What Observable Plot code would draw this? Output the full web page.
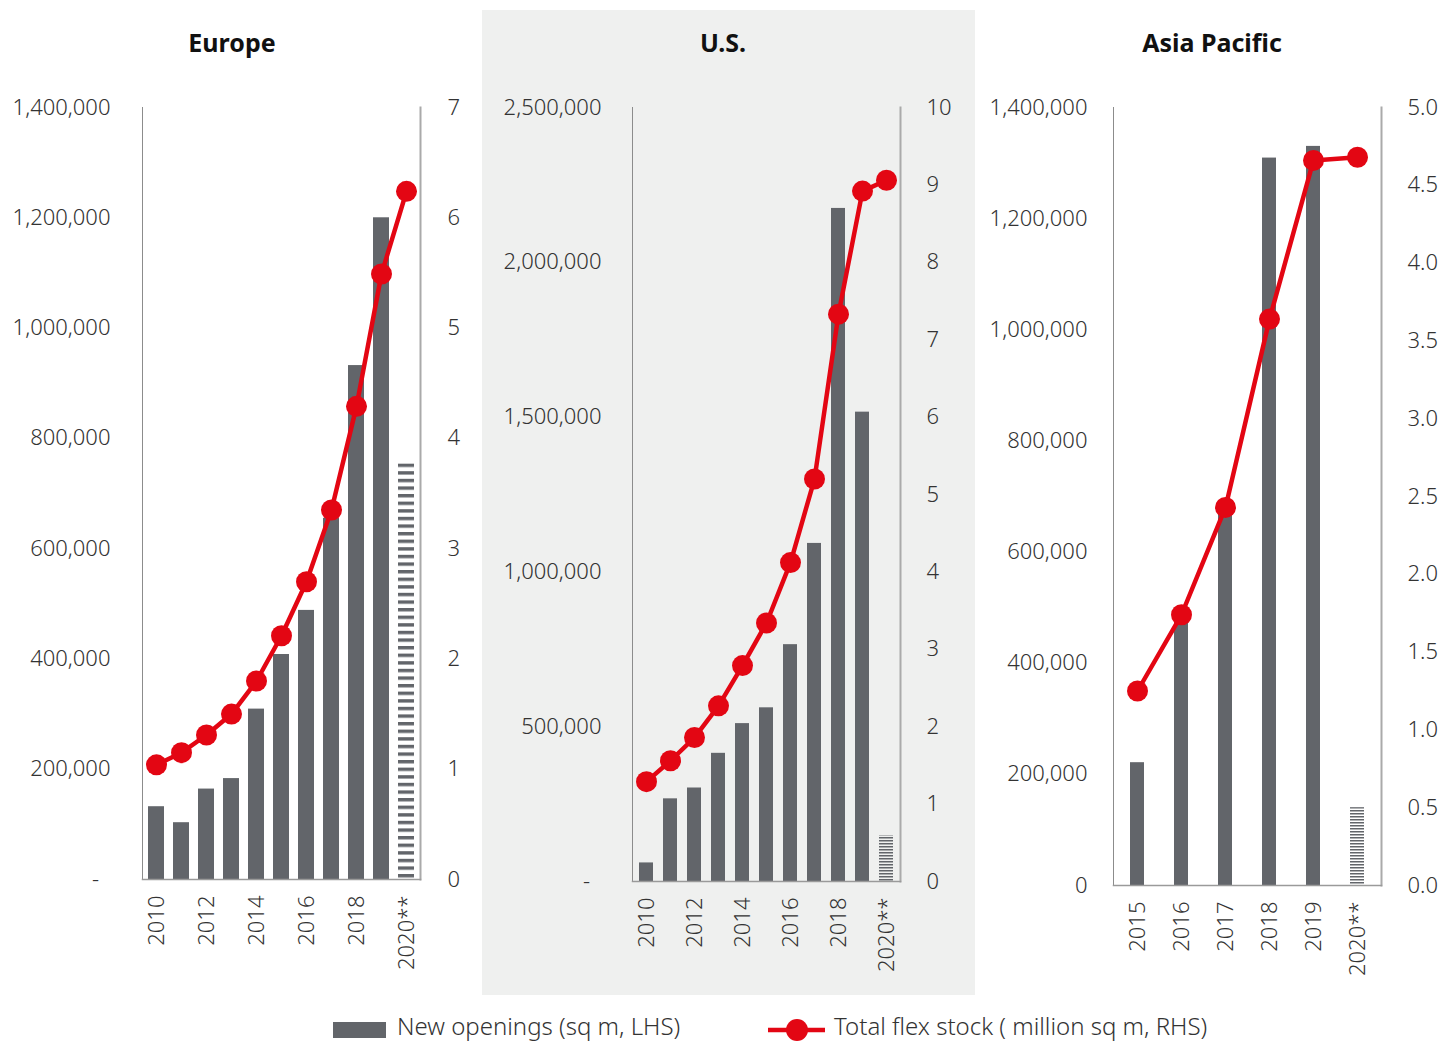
<!DOCTYPE html>
<html>
<head>
<meta charset="utf-8">
<script src="https://cdn.jsdelivr.net/npm/d3@7"></script>
<script src="https://cdn.jsdelivr.net/npm/@observablehq/plot@0.6"></script>
<style>
  body { margin: 0; background: #fff; }
  #root { position: relative; width: 1455px; height: 1043px; overflow: hidden; font-family: "Noto Sans", sans-serif; }
  .bg { position: absolute; left: 482px; top: 10px; width: 493px; height: 985px; background: #eff0ef; }
  .title { position: absolute; top: 30px; font-weight: 700; font-size: 25px; line-height: 25px; color: #111; transform: translateX(-50%); white-space: nowrap; }
  .panel { position: absolute; top: 0; }
  .legend-text { position: absolute; top: 1012px; font-size: 24px; line-height: 28px; color: #333; font-weight: 300; white-space: nowrap; }
</style>
</head>
<body>
<div id="root">
  <div class="bg"></div>
</div>
<script>
// ---------- data ----------
const forecastLabel = "2020**";
const panelTitles = ["Europe", "U.S.", "Asia Pacific"];
const legendLabels = ["New openings (sq m, LHS)", "Total flex stock ( million sq m, RHS)"];

const euYears = ["2010","2011","2012","2013","2014","2015","2016","2017","2018","2019","2020**"];
const euOpenings = [132000,103000,164000,183000,309000,408000,488000,655000,932000,1200000,754000];
const euStock = [1.04,1.15,1.31,1.50,1.80,2.21,2.70,3.35,4.29,5.49,6.24];
const euLeftTicks = [0,200000,400000,600000,800000,1000000,1200000,1400000];
const euRightTicks = [0,1,2,3,4,5,6,7];

const usYears = ["2010","2011","2012","2013","2014","2015","2016","2017","2018","2019","2020**"];
const usOpenings = [60000,267000,302000,414000,510000,561000,765000,1092000,2174000,1516000,148000];
const usStock = [1.29,1.56,1.86,2.27,2.79,3.34,4.12,5.20,7.33,8.92,9.06];
const usLeftTicks = [0,500000,1000000,1500000,2000000,2500000];
const usRightTicks = [0,1,2,3,4,5,6,7,8,9,10];

const apYears = ["2015","2016","2017","2018","2019","2020**"];
const apOpenings = [221000,480000,670000,1309000,1330000,140000];
const apStock = [1.25,1.74,2.43,3.64,4.66,4.68];
const apLeftTicks = [0,200000,400000,600000,800000,1000000,1200000,1400000];
const apRightTicks = [0,0.5,1,1.5,2,2.5,3,3.5,4,4.5,5];

const evenYearTicks = ["2010","2012","2014","2016","2018","2020**"];

// ---------- styling ----------
const barColor = "#62656a";
const red = "#e30613";
const textColor = "#333";
const comma = d3.format(",");

function makePanel(cfg) {
  const factor = cfg.yMax / cfg.rMax;
  const rows = cfg.years.map((y, i) => ({ year: y, open: cfg.openings[i], stock: cfg.stock[i], fc: y === forecastLabel }));
  const actual = rows.filter(d => !d.fc);
  const fc = rows.filter(d => d.fc);
  const svg = Plot.plot({
    width: cfg.width, height: 1000,
    marginLeft: cfg.ml, marginRight: cfg.mr, marginTop: 107, marginBottom: cfg.mb,
    style: { background: "transparent", fontFamily: "Noto Sans, sans-serif", fontSize: "22px", color: textColor, fontWeight: 300, overflow: "visible" },
    x: { type: "band", domain: cfg.years, paddingInner: cfg.pi, paddingOuter: cfg.po, align: 0.5 },
    y: { domain: [0, cfg.yMax] },
    marks: [
      Plot.barY(actual, { x: "year", y: "open", fill: barColor }),
      Plot.barY(fc, { x: "year", y: "open", fill: `url(#${cfg.id})` }),
      Plot.frame({ anchor: "left", stroke: "#8c8c8c", strokeOpacity: 1 }),
      Plot.frame({ anchor: "right", stroke: "#aaaaaa", strokeWidth: 2, strokeOpacity: 1 }),
      Plot.frame({ anchor: "bottom", stroke: "#9a9a9a", strokeWidth: 1.5, strokeOpacity: 1 }),
      Plot.line(rows, { x: "year", y: d => d.stock * factor, stroke: red, strokeWidth: 4.5 }),
      Plot.dot(rows, { x: "year", y: d => d.stock * factor, r: 10.5, fill: red }),
      Plot.axisY({ anchor: "left", ticks: cfg.leftTicks, tickFormat: cfg.leftFmt, tickSize: 0, tickPadding: cfg.lp, label: null, fontSize: 22 }),
      Plot.axisY({ anchor: "right", ticks: cfg.rightTicks.map(v => v * factor), tickFormat: d => cfg.rightFmt(d / factor), tickSize: 0, tickPadding: cfg.rp, label: null, fontSize: 22 }),
      Plot.axisX({ ticks: cfg.xTicks, tickRotate: -90, tickSize: 0, tickPadding: 16, label: null, fontSize: 22 })
    ]
  });
  const defs = d3.select(svg).insert("defs", ":first-child");
  const pat = defs.append("pattern").attr("id", cfg.id).attr("patternUnits", "userSpaceOnUse")
    .attr("width", 40).attr("height", cfg.period);
  pat.append("rect").attr("x", 0).attr("y", 0).attr("width", 40).attr("height", cfg.stripe).attr("fill", barColor);
  const wrap = document.createElement("div");
  wrap.className = "panel";
  wrap.style.left = cfg.left + "px";
  wrap.appendChild(svg);
  return wrap;
}

const root = document.getElementById("root");

root.appendChild(makePanel({
  id: "hatchEU", years: euYears, openings: euOpenings, stock: euStock,
  yMax: 1400000, rMax: 7, leftTicks: euLeftTicks, rightTicks: euRightTicks,
  leftFmt: d => d === 0 ? "-\u00a0\u00a0" : comma(d), rightFmt: d => String(d),
  xTicks: evenYearTicks, left: 0, width: 485, ml: 142, mr: 65, mb: 121, pi: 0.37, po: 0.15,
  lp: 32, rp: 27, period: 7.6, stripe: 3.4
}));
root.appendChild(makePanel({
  id: "hatchUS", years: usYears, openings: usOpenings, stock: usStock,
  yMax: 2500000, rMax: 10, leftTicks: usLeftTicks, rightTicks: usRightTicks,
  leftFmt: d => d === 0 ? "-\u00a0\u00a0" : comma(d), rightFmt: d => String(d),
  xTicks: evenYearTicks, left: 485, width: 490, ml: 147, mr: 75, mb: 119, pi: 0.4, po: 0.19,
  lp: 31, rp: 26, period: 3, stripe: 1.5
}));
root.appendChild(makePanel({
  id: "hatchAP", years: apYears, openings: apOpenings, stock: apStock,
  yMax: 1400000, rMax: 5, leftTicks: apLeftTicks, rightTicks: apRightTicks,
  leftFmt: d => comma(d), rightFmt: d3.format(".1f"),
  xTicks: apYears, left: 975, width: 480, ml: 138, mr: 74, mb: 115, pi: 0.68, po: 0.345,
  lp: 26, rp: 26, period: 3, stripe: 1.5
}));

// titles
[[panelTitles[0], 232], [panelTitles[1], 723], [panelTitles[2], 1212]].forEach(([t, cx]) => {
  const el = document.createElement("div");
  el.className = "title";
  el.style.left = cx + "px";
  el.textContent = t;
  root.appendChild(el);
});

// legend
const ns = "http://www.w3.org/2000/svg";
const lg = d3.select(root).append("svg").attr("xmlns", ns)
  .style("position", "absolute").style("left", "0px").style("top", "1005px")
  .attr("width", 1455).attr("height", 38);
lg.append("rect").attr("x", 333).attr("y", 17).attr("width", 53).attr("height", 16).attr("fill", barColor);
lg.append("line").attr("x1", 768).attr("x2", 825).attr("y1", 25).attr("y2", 25).attr("stroke", red).attr("stroke-width", 4.5);
lg.append("circle").attr("cx", 797).attr("cy", 25).attr("r", 11).attr("fill", red);
[[legendLabels[0], 397], [legendLabels[1], 834]].forEach(([t, x]) => {
  const el = document.createElement("div");
  el.className = "legend-text";
  el.style.left = x + "px";
  el.textContent = t;
  root.appendChild(el);
});
</script>
</body>
</html>
